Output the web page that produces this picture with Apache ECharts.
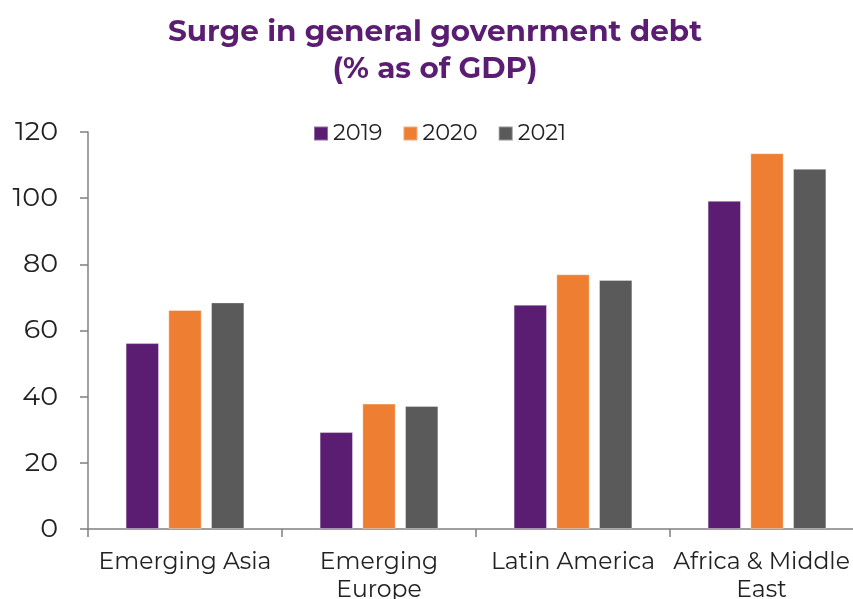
<!DOCTYPE html>
<html><head><meta charset="utf-8">
<script src="https://cdn.jsdelivr.net/npm/echarts@6/dist/echarts.min.js"></script>
<style>html,body{margin:0;padding:0;background:#fff}#c{width:853px;height:599px}</style>
</head><body><div id="c"></div>
<script>
const categories = ['Emerging Asia', 'Emerging\nEurope', 'Latin America', 'Africa & Middle\nEast'];
const years = ['2019', '2020', '2021'];
const v2019 = [56.2, 29.3, 67.8, 99.2];
const v2020 = [66.2, 37.9, 77.0, 113.6];
const v2021 = [68.5, 37.2, 75.3, 108.9];
const yTicks = [0, 20, 40, 60, 80, 100, 120];
const colors = ['#5b1d72', '#ee7f32', '#5a5a5a'];
const font = 'Montserrat, "Noto Sans", sans-serif';
const chart = echarts.init(document.getElementById('c'), null, {renderer: 'canvas'});
const vals = [v2019, v2020, v2021];
const catData = categories.map((c, i) => i === categories.length - 1
  ? {value: c, textStyle: {padding: [0, 11, 0, 0]}} : c);
chart.setOption({
  animation: false,
  title: {
    text: 'Surge in general govenrment debt\n(% as of GDP)',
    left: 430, top: 9, textAlign: 'center',
    textStyle: {color: '#5b1d72', fontSize: 29.5, fontWeight: 'bold', fontFamily: font, lineHeight: 37}
  },
  legend: {
    data: years, left: 308, top: 117, itemWidth: 14, itemHeight: 14, itemGap: 20,
    icon: 'rect', textStyle: {fontSize: 22.5, color: '#222', fontFamily: font}
  },
  grid: {left: 88, right: -11, top: 132, bottom: 70, outerBoundsMode: 'none', containLabel: false},
  xAxis: {
    type: 'category', data: catData,
    axisLine: {lineStyle: {color: '#808080', width: 1.5}},
    axisTick: {show: true, length: 8, lineStyle: {color: '#808080', width: 1.5}},
    axisLabel: {fontSize: 23.5, color: '#222', fontFamily: font, margin: 19, lineHeight: 28, interval: 0}
  },
  yAxis: {
    type: 'value', min: yTicks[0], max: yTicks[yTicks.length - 1], interval: 20,
    axisLine: {show: true, lineStyle: {color: '#808080', width: 1.5}},
    axisTick: {show: true, length: 8, lineStyle: {color: '#808080', width: 1.5}},
    splitLine: {show: false},
    axisLabel: {fontSize: 27, color: '#222', fontFamily: font, margin: 30}
  },
  series: years.map((y, i) => ({
    name: y, type: 'bar', data: vals[i], barWidth: '17.2%', barGap: '28%',
    itemStyle: {color: colors[i], borderColor: 'rgba(255,255,255,0.35)', borderWidth: 1}
  }))
});
</script></body></html>
